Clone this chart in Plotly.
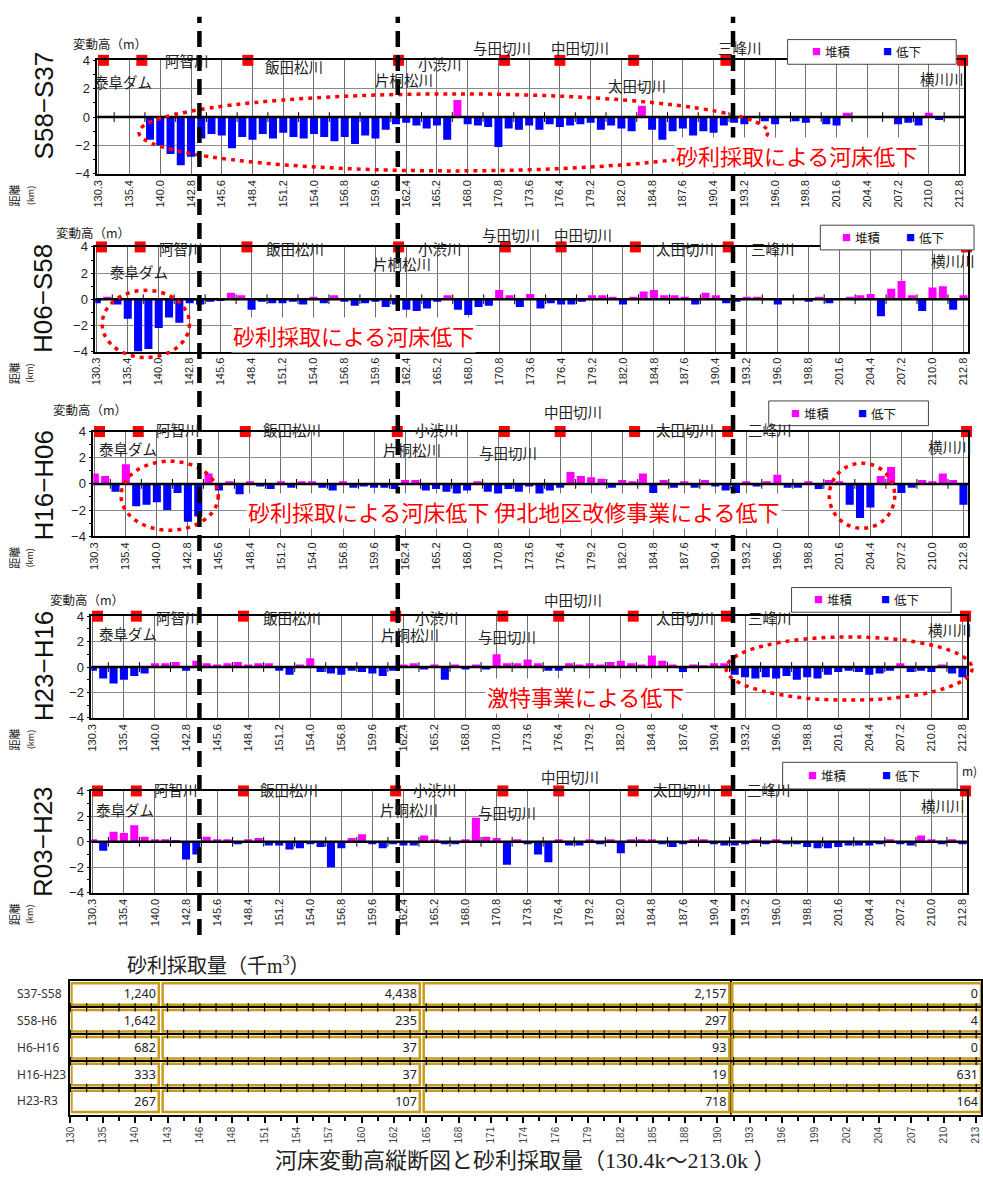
import plotly.graph_objects as go

W, H = 983, 1185


def px(x):
    return x / W


def py(y):
    return 1 - y / H


JP = "Noto Sans CJK JP"
SANS = "Liberation Sans"

# ---------------- data ----------------
km_labels = ["130.3", "135.4", "140.0", "142.8", "145.6", "148.4", "151.2", "154.0",
             "156.8", "159.6", "162.4", "165.2", "168.0", "170.8", "173.6", "176.4",
             "179.2", "182.0", "184.8", "187.6", "190.4", "193.2", "196.0", "198.8",
             "201.6", "204.4", "207.2", "210.0", "212.8"]

table_tick_labels = ["130", "135", "140", "143", "146", "148", "151", "154", "157", "160",
                     "162", "165", "168", "171", "174", "176", "179", "182", "185", "188",
                     "190", "193", "196", "199", "202", "204", "207", "210", "213"]

panel_names = ["S58−S37", "H06−S58", "H16−H06", "H23−H16", "R03−H23"]

# river-bed change height (m), 3 bars per distance-label interval
change_S58_S37 = [0, 0, 0, 0, 0, -1.6, -2.0, -2.6, -3.4, -2.8,
                  -1.5, -1.2, -1.3, -2.2, -1.4, -1.6, -1.2, -1.5, -1.1, -1.4,
                  -1.5, -1.2, -1.4, -1.7, -1.4, -1.9, -1.3, -1.5, -0.9, -0.5,
                  -0.4, -0.6, -0.8, -0.6, -1.6, 1.2, -0.5, -0.6, -0.7, -2.1,
                  -0.8, -0.9, -0.6, -0.9, -0.5, -0.7, -0.6, -0.5, -0.4, -0.9,
                  -0.6, -0.8, -1.0, 0.8, -0.9, -1.6, -1.0, -0.8, -1.3, -1.0,
                  -1.1, -0.6, -0.4, -0.5, 0, -0.3, -0.5, 0, -0.3, -0.4,
                  0, -0.5, -0.6, 0.3, 0, 0, 0, 0, -0.5, -0.4,
                  -0.6, 0.3, -0.2, 0, 0]

change_H06_S58 = [-0.3, 0.2, -0.4, -1.5, -4.0, -3.8, -2.2, -1.4, -1.8, -0.3,
                  -0.4, -0.2, -0.1, 0.5, 0.3, -0.8, -0.2, -0.3, -0.3, -0.2,
                  -0.4, 0.2, -0.3, 0.3, -0.2, -0.5, -0.3, -0.2, -0.6, -0.4,
                  -0.8, -0.9, -0.7, -0.2, 0.3, -0.8, -1.2, -0.6, -0.5, 0.7,
                  0.3, -0.6, 0.4, -0.7, -0.3, -0.4, -0.4, -0.2, 0.3, 0.3,
                  0.2, -0.4, 0.2, 0.6, 0.7, 0.3, 0.3, 0.2, -0.4, 0.5,
                  0.3, -0.3, -0.2, 0.2, 0.2, 0.1, -0.4, 0.1, 0.1, -0.2,
                  0.2, -0.3, 0.1, 0.2, 0.3, 0.4, -1.3, 0.8, 1.4, 0.3,
                  -0.9, 0.9, 1.0, -0.8, 0.3]

change_H16_H06 = [0.8, 0.6, -0.6, 1.5, -1.7, -1.6, -1.4, -2.0, -0.7, -2.9,
                  -2.5, 0.8, -0.5, 0.2, -0.8, 0.2, -0.2, -0.4, 0.2, -0.3,
                  0.2, 0.2, -0.3, -0.5, 0.2, -0.3, -0.2, -0.3, -0.3, -0.4,
                  0.3, 0.3, -0.5, -0.4, -0.6, -0.8, -0.5, 0.2, -0.6, -0.8,
                  -0.4, -0.6, -0.2, -0.8, -0.5, -0.3, 0.9, 0.6, 0.5, 0.4,
                  -0.3, 0.3, 0.2, 0.8, -0.7, 0.3, -0.3, 0.2, -0.3, 0.3,
                  -0.2, -0.5, -0.7, 0.2, -0.2, 0.2, 0.7, -0.3, -0.3, 0.2,
                  -0.4, 0.3, 0.2, -1.6, -2.6, -1.8, 0.6, 1.3, -0.7, -0.3,
                  0.3, 0.2, 0.8, 0.3, -1.6]

change_H23_H16 = [-0.3, -0.9, -1.3, -1.0, -0.7, -0.5, 0.3, 0.3, 0.4, -0.3,
                  0.5, 0.3, 0.2, 0.3, 0.4, 0.2, 0.3, 0.3, -0.3, -0.6,
                  0.2, 0.7, -0.4, -0.5, -0.6, -0.3, -0.4, -0.5, -0.7, -0.3,
                  0.2, 0.3, -0.2, 0.2, -1.0, 0.2, -0.2, 0.2, -0.2, 1.0,
                  0.3, 0.3, 0.6, 0.3, -0.3, -0.3, 0.3, 0.2, 0.3, 0.2,
                  0.4, 0.5, 0.3, 0.2, 0.9, 0.5, 0.2, -0.4, 0.2, 0.1,
                  0.3, 0.3, -0.6, -0.8, -0.9, -0.8, -0.9, -0.7, -1.0, -0.8,
                  -0.9, -0.6, -0.4, -0.3, -0.4, -0.6, -0.5, -0.3, 0.3, -0.4,
                  -0.3, -0.4, 0.2, -0.5, -0.8]

change_R03_H23 = [0.2, -0.7, 0.8, 0.7, 1.3, 0.4, 0.2, 0.2, 0.1, -1.4,
                  -1.0, 0.4, 0.2, 0.2, -0.2, 0.2, 0.3, -0.3, -0.3, -0.6,
                  -0.5, -0.2, -0.4, -2.0, -0.5, 0.3, 0.6, -0.2, -0.5, -0.2,
                  -0.3, -0.3, 0.5, 0.2, -0.2, -0.2, 0.2, 1.9, 0.4, 0.3,
                  -1.8, 0.2, -0.2, -1.0, -1.6, 0.2, -0.3, -0.3, 0.2, -0.2,
                  0.2, -0.9, 0.2, 0.2, 0.2, -0.2, -0.4, -0.2, 0.2, 0.2,
                  -0.2, -0.3, -0.3, -0.2, 0.2, -0.2, 0.2, -0.2, -0.2, -0.4,
                  -0.5, -0.5, -0.4, -0.3, -0.3, -0.3, -0.2, 0.2, -0.2, -0.3,
                  0.5, 0.2, -0.2, 0.2, -0.2]

panel_values = [change_S58_S37, change_H06_S58, change_H16_H06, change_H23_H16, change_R03_H23]

# tributary confluence positions (in distance-label index units)
tributary_pos = [0.15, 1.4, 4.85, 9.75, 13.2, 15.0, 17.4, 20.4, 28.1]

# gravel extraction (thousand m3)
period_labels = ["S37-S58", "S58-H6", "H6-H16", "H16-H23", "H23-R3"]
gravel_seg1 = [1240, 1642, 682, 333, 267]
gravel_seg2 = [4438, 235, 37, 37, 107]
gravel_seg3 = [2157, 297, 93, 19, 718]
gravel_seg4 = [0, 4, 0, 631, 164]
segment_start = [0.03, 2.85, 10.92, 20.46]
segment_end = [2.73, 10.80, 20.37, 28.15]

# ---------------- layout geometry (pixels) ----------------
panel_x = [(92, 966), (90, 970), (88, 970), (86, 969), (86, 969)]
panel_y = [(54, 169), (243, 349), (430, 536), (617, 720), (794, 897)]
title_y = [100, 295, 484, 667, 845]

river_labels = [
    [("泰阜ダム", 87, 75), ("阿智川", 158, 54), ("飯田松川", 259, 60), ("片桐松川", 370, 73),
     ("小渋川", 413, 57), ("与田切川", 469, 41), ("中田切川", 547, 41), ("太田切川", 605, 80),
     ("三峰川", 716, 41), ("横川川", 919, 72)],
    [("泰阜ダム", 103, 268), ("阿智川", 152, 245), ("飯田松川", 260, 245), ("片桐松川", 368, 260),
     ("小渋川", 413, 245), ("与田切川", 478, 230), ("中田切川", 550, 230), ("太田切川", 653, 245),
     ("三峰川", 749, 245), ("横川川", 931, 257)],
    [("泰阜ダム", 92, 447), ("阿智川", 149, 428), ("飯田松川", 257, 428), ("片桐松川", 378, 448),
     ("小渋川", 410, 428), ("与田切川", 475, 451), ("中田切川", 540, 410), ("太田切川", 653, 428),
     ("三峰川", 746, 428), ("横川川", 928, 445)],
    [("泰阜ダム", 92, 635), ("阿智川", 149, 618), ("飯田松川", 257, 618), ("片桐松川", 376, 636),
     ("小渋川", 410, 618), ("与田切川", 474, 638), ("中田切川", 540, 600), ("太田切川", 653, 618),
     ("三峰川", 746, 618), ("横川川", 928, 630)],
    [("泰阜ダム", 89, 813), ("阿智川", 147, 793), ("飯田松川", 254, 793), ("片桐松川", 375, 813),
     ("小渋川", 408, 793), ("与田切川", 474, 816), ("中田切川", 537, 779), ("太田切川", 650, 793),
     ("三峰川", 745, 793), ("横川川", 920, 809)],
]
ylabel_pos = [(66, 37), (48, 228), (45, 408), (42, 600), None]
legend_boxes = [(788, 33, 958, 58), (821, 221, 976, 246), (769, 399, 930, 424),
                (792, 588, 953, 613), (783, 765, 959, 792)]

ellipses = [(451, 127, 317, 39), (141, 321, 44, 34), (165, 495, 49, 35),
            (863, 495, 33, 33), (850, 670, 124, 32)]
red_notes = [("砂利採取による河床低下", 797, 150),
             ("砂利採取による河床低下", 350, 332),
             ("砂利採取による河床低下 伊北地区改修事業による低下", 512, 510),
             ("激特事業による低下", 584, 698)]
dashed_x = [195, 395, 733]

fig = go.Figure()
layout = dict(
    width=W, height=H, margin=dict(l=0, r=0, t=0, b=0),
    paper_bgcolor="white", plot_bgcolor="white",
    showlegend=False, barmode="overlay",
    font=dict(family=SANS, color="#222"),
)
annotations = []
shapes = []


def note(text, x, y, size, family=JP, color="#222", xanchor="center", yanchor="middle", **kw):
    d = dict(text=text, x=px(x), y=py(y), xref="paper", yref="paper", xanchor=xanchor,
             yanchor=yanchor, showarrow=False, font=dict(size=size, family=family, color=color))
    d.update(kw)
    annotations.append(d)


bar_pos = [k / 3 for k in range(len(change_S58_S37))]

for i, vals in enumerate(panel_values):
    s = "" if i == 0 else str(i + 1)
    xa, ya = "x" + s, "y" + s
    dep = [v if v > 0 else None for v in vals]
    dec = [v if v < 0 else None for v in vals]
    fig.add_trace(go.Bar(x=bar_pos, y=dep, width=0.26, marker=dict(color="#FF00FF", line=dict(width=0)),
                         name="堆積", xaxis=xa, yaxis=ya))
    fig.add_trace(go.Bar(x=bar_pos, y=dec, width=0.26, marker=dict(color="#0000FF", line=dict(width=0)),
                         name="低下", xaxis=xa, yaxis=ya))
    # minor ticks on zero line
    fig.add_trace(go.Scatter(x=[k + 0.5 for k in range(28)], y=[0] * 28, mode="markers",
                             marker=dict(symbol="line-ns", size=7, line=dict(width=1, color="black")),
                             xaxis=xa, yaxis=ya, hoverinfo="skip"))
    # tributary markers
    fig.add_trace(go.Scatter(x=tributary_pos, y=[4] * len(tributary_pos), mode="markers",
                             marker=dict(symbol="square", size=11, color="#FF0000"),
                             cliponaxis=False, xaxis=xa, yaxis=ya, hoverinfo="skip"))

    l, r = panel_x[i]
    t, b = panel_y[i]
    layout["xaxis" + s] = dict(
        domain=[px(l), px(r)], range=[-0.05, 28.15], anchor=ya,
        tickmode="array", tickvals=list(range(29)), ticktext=km_labels, tickangle=-90,
        tickfont=dict(size=11, family=SANS, color="#222"),
        showgrid=True, gridcolor="#707070", gridwidth=1,
        showline=True, linecolor="black", linewidth=1.5, mirror=True,
        zeroline=False, ticks="",
    )
    layout["yaxis" + s] = dict(
        domain=[py(b), py(t)], range=[-4, 4], anchor=xa,
        tickmode="array", tickvals=[-4, -2, 0, 2, 4],
        tickfont=dict(size=13, family=SANS, color="#222"),
        showgrid=True, gridcolor="#8a8a8a", gridwidth=1,
        showline=True, linecolor="black", linewidth=1.5, mirror=True,
        zeroline=False, ticks="outside", ticklen=3, tickcolor="black",
        minor=dict(tickvals=[-3, -1, 1, 3], ticks="outside", ticklen=3, tickcolor="black"),
    )
    # zero line on top
    shapes.append(dict(type="line", xref=xa + " domain", x0=0, x1=1, yref=ya, y0=0, y1=0,
                       line=dict(color="black", width=2.5), layer="above"))

    note(panel_names[i], 38, title_y[i], 26, family=SANS, color="#111", textangle=-90)
    note("距離<br><span style='font-size:9px'>(km)</span>", 15, b + 22, 11, textangle=-90)
    if ylabel_pos[i] is not None:
        note("変動高（m）", ylabel_pos[i][0], ylabel_pos[i][1], 12.5, xanchor="left")
    for txt, xl, yc in river_labels[i]:
        note(txt, xl, yc, 14.5, xanchor="left")
    # legend box
    x0, y0, x1, y1 = legend_boxes[i]
    shapes.append(dict(type="rect", xref="paper", yref="paper", x0=px(x0), x1=px(x1), y0=py(y1), y1=py(y0),
                       fillcolor="white", line=dict(color="#444", width=1), layer="above"))
    bw = x1 - x0
    ym = (y0 + y1) / 2
    note("■", x0 + 0.21 * bw, ym, 9, color="#FF00FF", xanchor="right")
    note("堆積", x0 + 0.21 * bw, ym, 12.5, xanchor="left")
    note("■", x0 + 0.63 * bw, ym, 9, color="#0000FF", xanchor="right")
    note("低下", x0 + 0.63 * bw, ym, 12.5, xanchor="left")

# stray "m)" in last panel
note("m)", 962, 773, 12, xanchor="left")

# ellipses
for cx, cy, rx, ry in ellipses:
    shapes.append(dict(type="circle", xref="paper", yref="paper",
                       x0=px(cx - rx), x1=px(cx + rx), y0=py(cy + ry), y1=py(cy - ry),
                       line=dict(color="#FF0000", width=3.5, dash="4px,5px"), layer="above"))

# red notes
for txt, cx, cy in red_notes:
    note(txt, cx, cy, 22, color="#FF0000", bgcolor="white", borderpad=1)

# dashed vertical lines
for xd in dashed_x:
    shapes.append(dict(type="line", xref="paper", yref="paper", x0=px(xd), x1=px(xd), y0=py(940), y1=py(10),
                       line=dict(color="black", width=4.5, dash="16px,8px"), layer="above"))

# ---------------- gravel extraction table ----------------
rows = list(range(len(period_labels)))
for st, en, vals in zip(segment_start, segment_end, [gravel_seg1, gravel_seg2, gravel_seg3, gravel_seg4]):
    fig.add_trace(go.Bar(
        y=rows, x=[en - st] * len(rows), base=st, orientation="h", width=0.8,
        marker=dict(color="white", line=dict(color="#C89B1F", width=2.5)),
        text=[f"{v:,}" for v in vals], textposition="inside", insidetextanchor="end", textangle=0,
        textfont=dict(size=12.5, family="Noto Sans", color="#222"), constraintext="none",
        xaxis="x6", yaxis="y6", hoverinfo="skip"))

# ticks on row separators
sep_x = [k * 0.5 for k in range(57)]
for yb in [0.5, 1.5, 2.5, 3.5]:
    fig.add_trace(go.Scatter(x=sep_x, y=[yb] * len(sep_x), mode="markers",
                             marker=dict(symbol="line-ns", size=6, line=dict(width=1.2, color="black")),
                             xaxis="x6", yaxis="y6", hoverinfo="skip", cliponaxis=False))

layout["xaxis6"] = dict(
    domain=[px(65), 1.0], range=[0, 28.15], anchor="y6",
    tickmode="array", tickvals=list(range(29)), ticktext=table_tick_labels, tickangle=-90,
    tickfont=dict(size=10, family=SANS, color="#444"),
    ticks="outside", ticklen=6, tickcolor="black", tickwidth=1.5,
    minor=dict(tickvals=[k + 0.5 for k in range(28)], ticks="outside", ticklen=4, tickcolor="black"),
    showgrid=False, zeroline=False, showline=True, linecolor="black", linewidth=2, mirror=True,
)
layout["yaxis6"] = dict(
    domain=[py(1122), py(986)], range=[4.5, -0.5], anchor="x6",
    tickmode="array", tickvals=[0.5, 1.5, 2.5, 3.5], showticklabels=False, ticks="",
    showgrid=True, gridcolor="black", gridwidth=1.5, zeroline=False,
    showline=True, linecolor="black", linewidth=2, mirror=True,
)
shapes.append(dict(type="line", xref="x6", yref="y6", x0=20.42, x1=20.42, y0=-0.5, y1=4.5,
                   line=dict(color="black", width=2), layer="below"))

row_y = [999, 1026, 1054, 1081, 1108]
for lab, yy in zip(period_labels, row_y):
    note(lab, 9, yy, 12, family="Noto Sans", color="#333", xanchor="left")

note("砂利採取量（千<span style='font-family:Liberation Serif'>m<sup>3</sup></span>）", 120, 970, 20,
     xanchor="left")
note("河床変動高縦断図と砂利採取量（<span style='font-family:Liberation Serif'>130.4k</span>～"
     "<span style='font-family:Liberation Serif'>213.0k </span>）", 524, 1166, 22)

layout["annotations"] = annotations
layout["shapes"] = shapes
fig.update_layout(**layout)
fig.write_html("out.html")
